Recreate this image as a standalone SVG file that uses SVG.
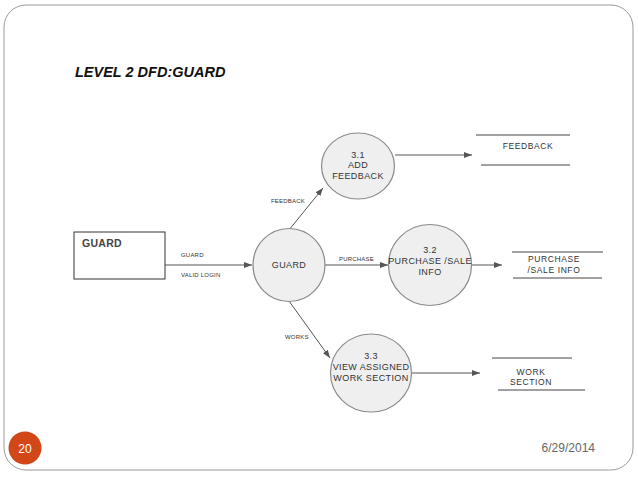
<svg xmlns="http://www.w3.org/2000/svg" width="638" height="478" viewBox="0 0 638 478">
<style>
.proc{fill:#efefef;stroke:#8a8a8a;stroke-width:1.2}
.pt{font-family:"Liberation Sans",Arial,sans-serif;font-size:9px;fill:#333;text-anchor:middle;letter-spacing:0.4px}
.lbl{font-family:"Liberation Sans",Arial,sans-serif;font-size:6px;fill:#333;letter-spacing:0.2px}
.st{font-family:"Liberation Sans",Arial,sans-serif;font-size:8.5px;fill:#333;text-anchor:middle;letter-spacing:0.6px}
.ln{stroke:#555;stroke-width:1;fill:none}
.sl{stroke:#444;stroke-width:1}
</style>
<defs>
<marker id="ah" markerWidth="8" markerHeight="6" refX="8" refY="3" orient="auto" markerUnits="userSpaceOnUse">
<path d="M0,0 L8,3 L0,6 z" fill="#555"/>
</marker>
</defs>
<rect x="4" y="5" width="629" height="465" rx="22" fill="#fff" stroke="#9a9a9a" stroke-width="1"/>
<text x="75" y="77" font-family="Liberation Sans,Arial,sans-serif" font-size="14.5" font-weight="bold" font-style="italic" fill="#111">LEVEL 2 DFD:GUARD</text>

<g id="connectors">
<line class="ln" x1="165" y1="265" x2="252" y2="265" marker-end="url(#ah)"/>
<line class="ln" x1="289" y1="230" x2="323" y2="188" marker-end="url(#ah)"/>
<line class="ln" x1="395" y1="155" x2="472" y2="155" marker-end="url(#ah)"/>
<line class="ln" x1="325" y1="265" x2="388" y2="265" marker-end="url(#ah)"/>
<line class="ln" x1="472" y1="265" x2="502" y2="265" marker-end="url(#ah)"/>
<line class="ln" x1="289" y1="301" x2="330" y2="358" marker-end="url(#ah)"/>
<line class="ln" x1="411" y1="373" x2="480" y2="373" marker-end="url(#ah)"/>
<text class="lbl" x="181" y="257">GUARD</text>
<text class="lbl" x="181" y="277">VALID LOGIN</text>
<text class="lbl" x="271" y="203">FEEDBACK</text>
<text class="lbl" x="339" y="261">PURCHASE</text>
<text class="lbl" x="285" y="339">WORKS</text>
</g>

<g id="guard-entity">
<rect x="74" y="232" width="91" height="47" fill="#fff" stroke="#333" stroke-width="1"/>
<text x="82" y="247" font-family="Liberation Sans,Arial,sans-serif" font-size="10.5" font-weight="bold" fill="#444" letter-spacing="0.3">GUARD</text>
</g>

<g id="guard-process">
<ellipse class="proc" cx="289" cy="265" rx="36" ry="36.5"/>
<text class="pt" x="289" y="268">GUARD</text>
</g>

<g id="p31">
<ellipse class="proc" cx="358" cy="166" rx="36.5" ry="33"/>
<text class="pt" x="358" y="158">3.1</text>
<text class="pt" x="358" y="168">ADD</text>
<text class="pt" x="358" y="179">FEEDBACK</text>
</g>

<g id="p32">
<ellipse class="proc" cx="430" cy="265" rx="41.5" ry="40.5"/>
<text class="pt" x="430" y="253">3.2</text>
<text class="pt" x="430" y="264">PURCHASE /SALE</text>
<text class="pt" x="430" y="275">INFO</text>
</g>

<g id="p33">
<ellipse class="proc" cx="371" cy="373" rx="40.5" ry="39"/>
<text class="pt" x="371" y="359">3.3</text>
<text class="pt" x="371" y="370">VIEW ASSIGNED</text>
<text class="pt" x="371" y="381">WORK SECTION</text>
</g>

<g id="store-feedback">
<line class="sl" x1="476" y1="135" x2="570" y2="135"/>
<line class="sl" x1="481" y1="165" x2="570" y2="165"/>
<text class="st" x="528" y="149">FEEDBACK</text>
</g>

<g id="store-purchase">
<line class="sl" x1="512" y1="252" x2="603" y2="252"/>
<line class="sl" x1="513" y1="278" x2="602" y2="278"/>
<text class="st" x="554" y="262">PURCHASE</text>
<text class="st" x="554" y="273">/SALE INFO</text>
</g>

<g id="store-work">
<line class="sl" x1="492" y1="358" x2="572" y2="358"/>
<line class="sl" x1="498" y1="390" x2="585" y2="390"/>
<text class="st" x="531" y="375">WORK</text>
<text class="st" x="531" y="385">SECTION</text>
</g>

<g id="footer">
<circle cx="25" cy="448" r="16.5" fill="#d24718"/>
<text x="25" y="452.5" font-family="Liberation Sans,Arial,sans-serif" font-size="12" fill="#fff" text-anchor="middle">20</text>
<text x="595" y="452" font-family="Liberation Sans,Arial,sans-serif" font-size="12" fill="#666" text-anchor="end">6/29/2014</text>
</g>
</svg>
